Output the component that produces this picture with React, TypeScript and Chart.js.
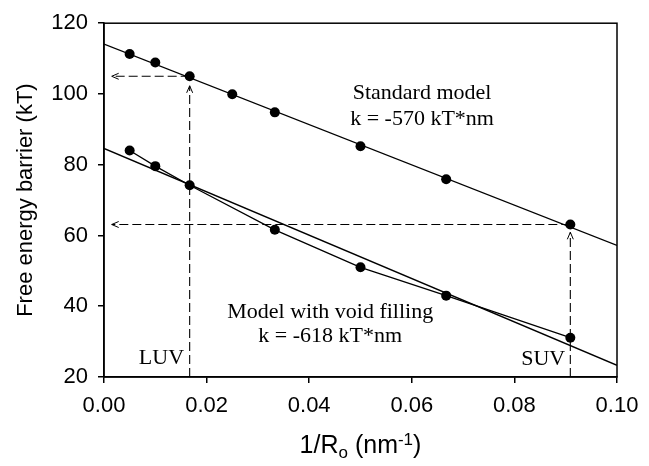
import React, { useEffect, useRef } from "react";
import { Chart, registerables } from "chart.js";
Chart.register(...registerables);

// Data
const upperX = [0.005, 0.01, 0.0167, 0.025, 0.0333, 0.05, 0.0667, 0.0909];
const upperY = [111.3, 108.9, 105.0, 99.9, 94.8, 85.2, 75.9, 63.1];
const lowerX = [0.005, 0.01, 0.0167, 0.0333, 0.05, 0.0667, 0.0909];
const lowerY = [84.0, 79.6, 74.2, 61.6, 51.0, 43.0, 31.1];
const fitX = [0, 0.1];
const upperFitY = [114.1, 57.2];
const lowerFitY = [84.6, 23.3];
const guideX = [0.0167, 0.0909]; // LUV, SUV
const guideY = [105.0, 63.1];
const guideTipY = [102.3, 60.9];
const guideTipX = [0.0015, 0.0015];
const guideLabels = ["LUV", "SUV"];
const guideLabelX = [0.0156, 0.0899];
const guideLabelY = [25.4, 25.0];
const modelLabels = [
  ["Standard model", "k = -570 kT*nm"],
  ["Model with void filling", "k = -618 kT*nm"],
];
const modelLabelX = [0.062, 0.0441];
const modelLabelY = [[100.3, 92.8], [38.3, 31.4]];

const SANS = '"Liberation Sans", Arial, sans-serif';
const SERIF = '"Liberation Serif", "Times New Roman", serif';

const pts = (xs: number[], ys: number[]) => xs.map((x, i) => ({ x, y: ys[i] }));

const overlay = {
  id: "overlay",
  afterDraw(chart: any) {
    const ctx = chart.ctx;
    const xs = chart.scales.x;
    const ys = chart.scales.y;
    const a = chart.chartArea;
    ctx.save();
    // frame
    ctx.strokeStyle = "#000";
    ctx.lineWidth = 1.5;
    ctx.strokeRect(a.left, a.top, a.right - a.left, a.bottom - a.top);

    // arrowheads
    ctx.lineWidth = 1;
    for (let i = 0; i < guideX.length; i++) {
      const vx = xs.getPixelForValue(guideX[i]);
      const vy = ys.getPixelForValue(guideTipY[i]);
      ctx.beginPath();
      ctx.moveTo(vx - 3, vy + 7);
      ctx.lineTo(vx, vy);
      ctx.lineTo(vx + 3, vy + 7);
      ctx.stroke();
      const hx = xs.getPixelForValue(guideTipX[i]);
      const hy = ys.getPixelForValue(guideY[i]);
      ctx.beginPath();
      ctx.moveTo(hx + 7, hy - 3);
      ctx.lineTo(hx, hy);
      ctx.lineTo(hx + 7, hy + 3);
      ctx.stroke();
    }

    // serif annotations
    ctx.fillStyle = "#000";
    ctx.font = `22px ${SERIF}`;
    ctx.textBaseline = "middle";
    ctx.textAlign = "center";
    modelLabels.forEach((lines, i) => {
      lines.forEach((t, j) => {
        ctx.fillText(t, xs.getPixelForValue(modelLabelX[i]), ys.getPixelForValue(modelLabelY[i][j]));
      });
    });
    ctx.textAlign = "right";
    guideLabels.forEach((t, i) => {
      ctx.fillText(t, xs.getPixelForValue(guideLabelX[i]), ys.getPixelForValue(guideLabelY[i]));
    });

    // y-axis title
    ctx.font = `22px ${SANS}`;
    ctx.textAlign = "center";
    ctx.save();
    ctx.translate(26, (a.top + a.bottom) / 2);
    ctx.rotate(-Math.PI / 2);
    ctx.fillText("Free energy barrier (kT)", 0, 0);
    ctx.restore();

    // x-axis title with sub/superscript
    const parts = [
      { t: "1/R", f: 25, dy: 0 },
      { t: "o", f: 17, dy: 5 },
      { t: " (nm", f: 25, dy: 0 },
      { t: "-1", f: 17, dy: -8 },
      { t: ")", f: 25, dy: 0 },
    ];
    let total = 0;
    parts.forEach((p) => {
      ctx.font = `${p.f}px ${SANS}`;
      total += ctx.measureText(p.t).width;
    });
    let cx = (a.left + a.right) / 2 - total / 2;
    const base = 453;
    ctx.textAlign = "left";
    ctx.textBaseline = "alphabetic";
    parts.forEach((p) => {
      ctx.font = `${p.f}px ${SANS}`;
      ctx.fillText(p.t, cx, base + p.dy);
      cx += ctx.measureText(p.t).width;
    });
    ctx.restore();
  },
};

export default function App() {
  const ref = useRef<HTMLCanvasElement | null>(null);
  useEffect(() => {
    if (!ref.current) return;
    const dash = {
      borderColor: "#000",
      borderWidth: 1.1,
      borderDash: [9, 4],
      pointRadius: 0,
      showLine: true,
      fill: false,
    };
    const guideSets: any[] = [];
    guideX.forEach((gx, i) => {
      guideSets.push({ ...dash, data: [{ x: gx, y: 20 }, { x: gx, y: guideTipY[i] }] });
      guideSets.push({ ...dash, data: [{ x: gx, y: guideY[i] }, { x: guideTipX[i], y: guideY[i] }] });
    });
    const chart = new Chart(ref.current, {
      type: "scatter",
      data: {
        datasets: [
          {
            data: pts(fitX, upperFitY),
            showLine: true,
            borderColor: "#000",
            borderWidth: 1.3,
            pointRadius: 0,
          },
          {
            data: pts(fitX, lowerFitY),
            showLine: true,
            borderColor: "#000",
            borderWidth: 1.3,
            pointRadius: 0,
          },
          ...guideSets,
          {
            data: pts(upperX, upperY),
            showLine: false,
            pointRadius: 5,
            pointBackgroundColor: "#000",
            pointBorderColor: "#000",
            pointBorderWidth: 0,
          },
          {
            data: pts(lowerX, lowerY),
            showLine: true,
            borderColor: "#000",
            borderWidth: 1.3,
            pointRadius: 5,
            pointBackgroundColor: "#000",
            pointBorderColor: "#000",
            pointBorderWidth: 0,
          },
        ],
      },
      options: {
        responsive: false,
        animation: false,
        devicePixelRatio: 1,
        layout: { padding: { top: 17, right: 32, left: 0, bottom: 0 } },
        plugins: { legend: { display: false }, tooltip: { enabled: false } },
        scales: {
          x: {
            type: "linear",
            min: 0,
            max: 0.1,
            afterFit: (s: any) => {
              s.height = 89;
            },
            ticks: {
              stepSize: 0.02,
              color: "#000",
              font: { family: SANS, size: 22 },
              padding: 10,
              maxRotation: 0,
              callback: (v: any) => Number(v).toFixed(2),
            },
            grid: { display: true, drawOnChartArea: false, drawTicks: true, tickLength: 6, color: "#000", lineWidth: 1.5 },
            border: { display: true, color: "#000", width: 1.5 },
          },
          y: {
            type: "linear",
            min: 20,
            max: 120,
            afterFit: (s: any) => {
              s.width = 104;
            },
            ticks: {
              stepSize: 20,
              color: "#000",
              font: { family: SANS, size: 22 },
              padding: 10,
            },
            grid: { display: true, drawOnChartArea: false, drawTicks: true, tickLength: 6, color: "#000", lineWidth: 1.5 },
            border: { display: true, color: "#000", width: 1.5 },
          },
        },
      },
      plugins: [overlay],
    } as any);
    return () => chart.destroy();
  }, []);
  return (
    <div style={{ position: "fixed", left: 0, top: 0, width: 649, height: 466, background: "#fff" }}>
      <canvas ref={ref} width={649} height={466} style={{ display: "block" }} />
    </div>
  );
}
